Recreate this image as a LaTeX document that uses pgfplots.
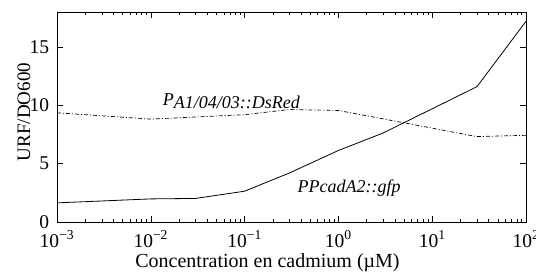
\documentclass[border=0pt]{standalone}
\usepackage{pgfplots}
\pgfplotsset{compat=1.18}
\usepackage{fontspec}
\setmainfont{Liberation Serif}
\begin{document}
\fontsize{20}{24}\selectfont
\begin{tikzpicture}
\begin{axis}[
  name=ax,
  scale only axis, width=469pt, height=210pt,
  xmode=log, xmin=1e-3, xmax=1e2, ymin=0, ymax=18,
  ytick={0,5,10,15},
  xtick={1e-3,1e-2,1e-1,1e0,1e1,1e2},
  xticklabels={10\textsuperscript{−3},10\textsuperscript{−2},10\textsuperscript{−1},10\textsuperscript{0},10\textsuperscript{1},10\textsuperscript{2}},
  /pgf/number format/assume math mode=true,
  tick label style={font=\fontsize{19.5}{24}\selectfont},
  tick align=inside, major tick length=6pt, minor tick length=3pt,
  tick style={black, line width=0.5pt},
  axis line style={line width=0.9pt},
  xticklabel style={anchor=base, yshift=-25pt},
  yticklabel style={xshift=-1pt},
  xlabel={Concentration en cadmium (µM)},
  ylabel={URF/DO600},
  every axis x label/.style={at={(axis description cs:0.5,0)}, anchor=base, xshift=-24pt, yshift=-45pt, font=\fontsize{20}{24}\selectfont},
  every axis y label/.style={at={(axis description cs:0,0.5)}, xshift=-33pt, yshift=5pt, anchor=center, rotate=90, font=\fontsize{19}{24}\selectfont},
  clip=false,
]
\addplot[black, line width=0.8pt] coordinates {
  (0.001,1.64) (0.01,1.98) (0.03,2.02) (0.1,2.64) (0.3,4.2) (1,6.13) (3,7.63) (30,11.6) (100,17.2)
};
\addplot[black, line width=0.7pt, dash pattern=on 4pt off 2pt on 1pt off 2pt] coordinates {
  (0.001,9.36) (0.01,8.82) (0.03,9.0) (0.1,9.2) (0.3,9.64) (1,9.56) (3,8.84) (30,7.32) (100,7.43)
};
\node[anchor=base west, inner sep=0pt, font=\fontsize{18}{22}\selectfont\itshape] at (axis cs:0.0134,9.96) {P\raisebox{-3pt}{A1/04/03::DsRed}};
\node[anchor=base west, inner sep=0pt, font=\fontsize{18}{22}\selectfont\itshape] at (axis cs:0.366,2.55) {PPcadA2::gfp};
\end{axis}
\pgfresetboundingbox
\path ([shift={(-57pt,-51pt)}]ax.south west) rectangle ([shift={(10pt,12pt)}]ax.north east);
\end{tikzpicture}
\end{document}
